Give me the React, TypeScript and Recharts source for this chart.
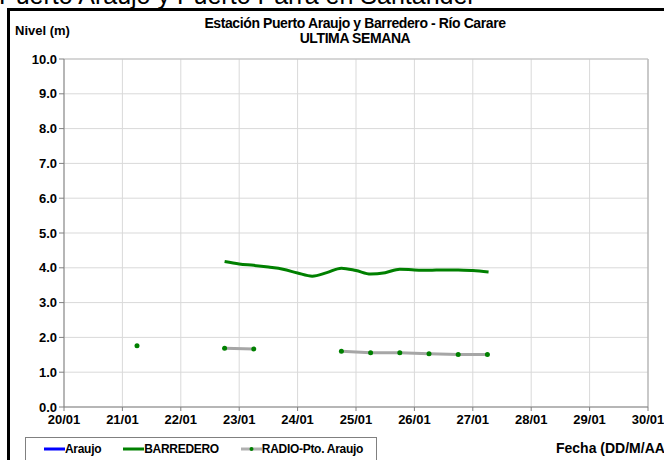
import { CartesianGrid, Line, LineChart, ReferenceLine, XAxis, YAxis } from 'recharts';

const FONT = "'Liberation Sans', Arial, sans-serif";

// x axis: day of January
const DAYS = [20, 21, 22, 23, 24, 25, 26, 27, 28, 29, 30];
const DAY_LABELS = ['20/01', '21/01', '22/01', '23/01', '24/01', '25/01', '26/01', '27/01', '28/01', '29/01', '30/01'];
const LEVEL_TICKS = [0, 1, 2, 3, 4, 5, 6, 7, 8, 9, 10];

// Araujo: no readings in this week
const ARAUJO_T: number[] = [];
const ARAUJO_M: number[] = [];

const BARREDERO_T = [22.75, 23.0, 23.25, 23.5, 23.75, 24.0, 24.25, 24.5, 24.75, 25.0, 25.25, 25.5, 25.75, 26.0, 26.25, 26.5, 26.75, 27.0, 27.27];
const BARREDERO_M = [4.18, 4.11, 4.07, 4.02, 3.96, 3.85, 3.76, 3.86, 3.99, 3.92, 3.82, 3.86, 3.96, 3.94, 3.93, 3.94, 3.94, 3.92, 3.88];

const RADIO_T = [21.25, 21.75, 22.25, 22.75, 23.25, 23.75, 24.25, 24.75, 25.25, 25.75, 26.25, 26.75, 27.25];
const RADIO_M = [1.76, null, null, 1.69, 1.67, null, null, 1.6, 1.56, 1.56, 1.53, 1.51, 1.51];

const araujoData = ARAUJO_T.map((t, i) => ({ t, v: ARAUJO_M[i] }));
const barrederoData = BARREDERO_T.map((t, i) => ({ t, v: BARREDERO_M[i] }));
const radioData = RADIO_T.map((t, i) => ({ t, v: RADIO_M[i] }));

const labelFor = (d: number) => DAY_LABELS[DAYS.indexOf(d)] ?? '';

function LegendItem({ color, label, dot }: { color: string; label: string; dot?: boolean }) {
  return (
    <div style={{ display: 'flex', alignItems: 'center', marginRight: 22, whiteSpace: 'nowrap' }}>
      <svg width={21} height={8}>
        <line x1={0} y1={4} x2={21} y2={4} stroke={color} strokeWidth={3} />
        {dot && <circle cx={10.5} cy={4} r={2} fill="#008000" />}
      </svg>
      <span>{label}</span>
    </div>
  );
}

export default function App() {
  return (
    <div
      style={{
        position: 'absolute',
        left: 0,
        top: 0,
        width: 664,
        height: 460,
        overflow: 'hidden',
        background: '#fff',
        fontFamily: FONT,
        color: '#000',
      }}
    >
      <div style={{ position: 'absolute', left: -1, top: -17, fontSize: 25, lineHeight: '25px', whiteSpace: 'nowrap' }}>
        Puerto Araujo y Puerto Parra en Santander
      </div>
      <div
        style={{
          position: 'absolute',
          left: 7,
          top: 8,
          width: 700,
          height: 500,
          borderLeft: '3px solid #000',
          borderTop: '3px solid #000',
        }}
      />
      <div style={{ position: 'absolute', left: 15, top: 23, fontSize: 13, fontWeight: 700, whiteSpace: 'nowrap' }}>Nivel (m)</div>
      <div
        style={{
          position: 'absolute',
          left: 150,
          width: 410,
          top: 16,
          textAlign: 'center',
          fontSize: 14,
          fontWeight: 700,
          lineHeight: '15px',
          letterSpacing: -0.4,
        }}
      >
        <div>Estación Puerto Araujo y Barredero - Río Carare</div>
        <div>ULTIMA SEMANA</div>
      </div>

      <div style={{ position: 'absolute', left: 0, top: 0 }}>
        <LineChart width={664} height={460} margin={{ top: 59, right: 16, bottom: 31, left: 0 }}>
          <CartesianGrid stroke="#d9d9d9" strokeWidth={1} />
          <XAxis
            type="number"
            dataKey="t"
            domain={[20, 30]}
            ticks={DAYS}
            tickFormatter={labelFor}
            allowDataOverflow
            height={22}
            stroke="#808080"
            tickSize={4}
            tick={{ fill: '#000', fontSize: 13, fontWeight: 700, fontFamily: FONT, dy: 2 }}
            interval={0}
          />
          <YAxis
            type="number"
            domain={[0, 10]}
            ticks={LEVEL_TICKS}
            tickFormatter={(v: number) => v.toFixed(1)}
            width={64}
            stroke="#808080"
            tickSize={5}
            tick={{ fill: '#000', fontSize: 13, fontWeight: 700, fontFamily: FONT }}
            interval={0}
          />
          <ReferenceLine x={30} stroke="#a6a6a6" />
          <ReferenceLine y={10} stroke="#c0c0c0" />
          <Line data={araujoData} dataKey="v" name="Araujo" stroke="#0000ff" strokeWidth={3} dot={false} isAnimationActive={false} />
          <Line
            data={barrederoData}
            dataKey="v"
            name="BARREDERO"
            type="monotone"
            stroke="#008000"
            strokeWidth={3}
            dot={false}
            isAnimationActive={false}
          />
          <Line
            data={radioData}
            dataKey="v"
            name="RADIO-Pto. Araujo"
            stroke="#a6a6a6"
            strokeWidth={3}
            dot={{ r: 2.5, fill: '#008000', stroke: 'none' }}
            isAnimationActive={false}
          />
        </LineChart>
      </div>

      <div
        style={{
          position: 'absolute',
          left: 25,
          top: 437,
          width: 352,
          height: 24,
          border: '1px solid #808080',
          boxSizing: 'border-box',
          display: 'flex',
          alignItems: 'center',
          paddingLeft: 18,
          fontSize: 12,
          fontWeight: 700,
          letterSpacing: -0.3,
        }}
      >
        <LegendItem color="#0000ff" label="Araujo" />
        <LegendItem color="#008000" label="BARREDERO" />
        <LegendItem color="#b0b0b0" label="RADIO-Pto. Araujo" dot />
      </div>
      <div style={{ position: 'absolute', left: 556, top: 440, fontSize: 14, fontWeight: 700, whiteSpace: 'nowrap' }}>
        Fecha (DD/M/AA)
      </div>
    </div>
  );
}
